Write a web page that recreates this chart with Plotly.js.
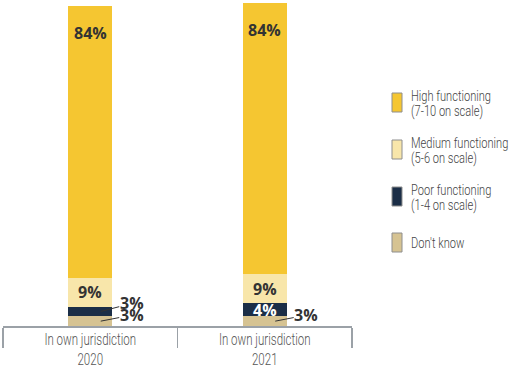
<!DOCTYPE html>
<html>
<head>
<meta charset="utf-8">
<script src="https://cdn.plot.ly/plotly-3.0.1.min.js"></script>
<style>
  html, body { margin: 0; padding: 0; background: #fff; }
  #chart { width: 509px; height: 371px; }
</style>
</head>
<body>
<div id="chart"></div>
<script>
// Survey results: how well the system functions, by year
const years = ['2020', '2021'];
const categories = years.map(y => 'In own jurisdiction<br>' + y);

// Shares (%) per rating, stacked bottom to top
const dontKnow = [3, 3];
const poor = [3, 4];
const medium = [9, 9];
const high = [84, 84];

// Legend labels, top to bottom
const legendLabels = [
  'High functioning\n(7-10 on scale)',
  'Medium functioning\n(5-6 on scale)',
  'Poor functioning\n(1-4 on scale)',
  "Don't know"
];

const colors = {
  high: '#F5C631',
  medium: '#F8E6AA',
  poor: '#1B2E47',
  dontKnow: '#D6C392'
};

const narrowBase = 'Roboto, "Noto Sans", sans-serif';
const labelFont = '"Open Sans", "DejaVu Sans", sans-serif';

// Stack order from the bottom up
const stack = [
  { key: 'dontKnow', values: dontKnow, color: colors.dontKnow },
  { key: 'poor', values: poor, color: colors.poor },
  { key: 'medium', values: medium, color: colors.medium },
  { key: 'high', values: high, color: colors.high }
];

const traces = stack.map(s => ({
  type: 'bar',
  x: categories,
  y: s.values,
  name: s.key,
  marker: { color: s.color, line: { width: 0 } },
  width: 0.25,
  hoverinfo: 'skip',
  showlegend: false
}));

// Value labels, positioned from the stacked values
const annotations = [];
categories.forEach((cat, i) => {
  let base = 0;
  stack.forEach(s => {
    const v = s.values[i];
    const mid = base + v / 2;
    const top = base + v;
    const text = v + '%';
    const font = { family: labelFont, size: 16, color: '#333333', weight: 700 };
    if (s.key === 'high') {
      annotations.push({ x: i, y: top, xref: 'x', yref: 'y', text, showarrow: false,
        yanchor: 'middle', yshift: -27, font });
    } else if (v <= 3) {
      annotations.push({ x: i + 0.06, y: mid, xref: 'x', yref: 'y', text,
        showarrow: true, arrowhead: 0, arrowwidth: 1, arrowcolor: '#333333', standoff: 0,
        ax: 31, ay: s.key === 'dontKnow' ? -6 : -8, borderpad: 0, font });
    } else {
      annotations.push({ x: i, y: mid, xref: 'x', yref: 'y', text, showarrow: false,
        font: Object.assign({}, font, { color: s.key === 'poor' ? '#ffffff' : '#333333' }) });
    }
    base = top;
  });
});

// Legend drawn from swatch shapes and text, in pixel terms of the plot area
const W = 509, H = 371;
const margin = { l: 3, r: 157, t: 3, b: 45 };
const plotW = W - margin.l - margin.r;
const plotH = H - margin.t - margin.b;
const px = x => (x - margin.l) / plotW;
const py = y => (H - margin.b - y) / plotH;

const shapes = [];
const legendTextIdx = [];
const legendColors = [colors.high, colors.medium, colors.poor, colors.dontKnow];
const swatchTops = [93, 140, 187, 233];
legendLabels.forEach((label, k) => {
  const t = swatchTops[k];
  shapes.push({ type: 'rect', xref: 'paper', yref: 'paper',
    x0: px(392), x1: px(402), y0: py(t + 19), y1: py(t),
    fillcolor: legendColors[k], line: { color: '#8e8e8e', width: 1 } });
  const lines = label.split('\n');
  lines.forEach((line, j) => {
    const yc = lines.length === 1 ? t + 9.5 : t + 3 + j * 15;
    legendTextIdx.push(annotations.length);
    annotations.push({ xref: 'paper', yref: 'paper', x: px(409), y: py(yc),
      xanchor: 'left', yanchor: 'middle', text: line, showarrow: false,
      font: { family: narrowBase, size: 15, color: '#444444', weight: 300 } });
  });
});

const layout = {
  width: W, height: H,
  margin,
  paper_bgcolor: '#ffffff',
  plot_bgcolor: '#ffffff',
  barmode: 'stack',
  showlegend: false,
  xaxis: {
    type: 'category',
    showline: true, linecolor: '#9ba1a7', linewidth: 1.5,
    ticks: 'outside', tickson: 'boundaries', ticklen: 20, tickwidth: 1.5, tickcolor: '#9ba1a7',
    ticklabelstandoff: -2,
    tickfont: { family: narrowBase, size: 16, color: '#555555', weight: 300 },
    showgrid: false, zeroline: false, fixedrange: true
  },
  yaxis: {
    range: [0, 100], visible: false, showgrid: false, zeroline: false, fixedrange: true
  },
  annotations,
  shapes
};

// Narrow the condensed-style texts horizontally around their anchor edge
function condense(el, s, anchor) {
  const b = el.getBBox();
  const cx = anchor === 'left' ? b.x : b.x + b.width / 2;
  const prev = el.getAttribute('transform') || '';
  el.setAttribute('transform',
    (prev + ' translate(' + cx + ',0) scale(' + s + ',1) translate(' + (-cx) + ',0)').trim());
}

Plotly.newPlot('chart', traces, layout, { displayModeBar: false, staticPlot: true }).then(gd => {
  gd.querySelectorAll('.xtick text').forEach(el => condense(el, 0.72, 'middle'));
  const annGroups = gd.querySelectorAll('g.annotation');
  annGroups.forEach(g => {
    const idx = +g.getAttribute('data-index');
    if (legendTextIdx.indexOf(idx) >= 0) {
      const t = g.querySelector('text.annotation-text');
      if (t) condense(t, 0.74, 'left');
    }
  });
});
</script>
</body>
</html>
